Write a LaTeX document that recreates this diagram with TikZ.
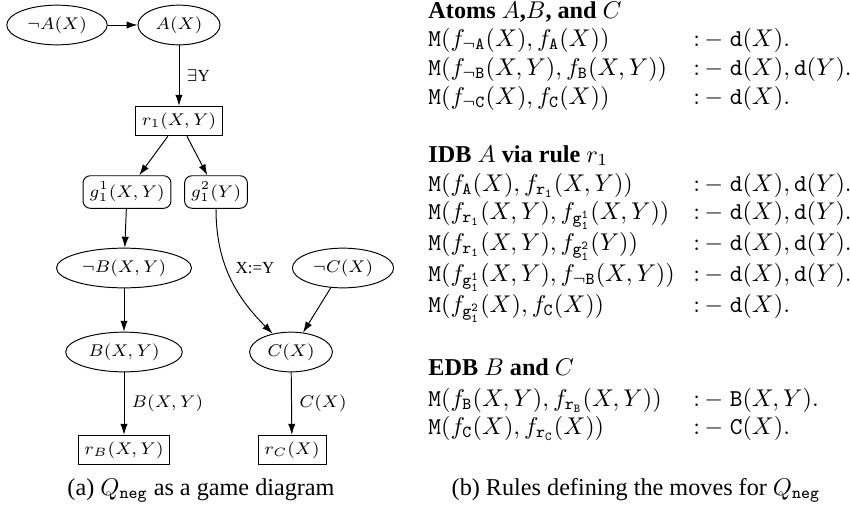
\documentclass[tikz,border=0pt]{standalone}
\usepackage[no-math]{fontspec}
\setmainfont{Liberation Serif}
\usetikzlibrary{shapes.geometric,arrows.meta}
\newlength\pxl
\setlength\pxl{0.4132pt}
\newcommand\graphfont{\fontsize{7}{8.4}\selectfont}
\newcommand\rowfont{\fontsize{10}{12}\selectfont}
\newcommand\capfont{\fontsize{10}{12}\selectfont}
\newcommand\rulesep{{:}\,{-}\;}
\tikzset{
  ell/.style={ellipse, draw, font=\graphfont, inner sep=2.3pt},
  gbox/.style={rectangle, draw, font=\graphfont, inner sep=2.6pt},
  rgbox/.style={gbox, rounded corners=3pt},
  lbl/.style={font=\graphfont, inner sep=2pt},
  arr/.style={-{Latex[length=4.5pt,width=3pt]}, line width=0.4pt},
  rowl/.style={anchor=base west, inner sep=0pt, font=\rowfont},
  head/.style={anchor=base west, inner sep=0pt, font=\capfont\bfseries},
  captext/.style={anchor=base, inner sep=0pt, font=\capfont}
}
\begin{document}
\begin{tikzpicture}[x=\pxl, y=-\pxl]
\useasboundingbox (0,0) rectangle (850,509);
% ---------- (a) game diagram ----------
\node[ell] (nA) at (57,25) {$\neg A(X)$};
\node[ell] (A) at (179,25) {$A(X)$};
\node[gbox] (r1) at (179,121) {$r_1(X,Y)$};
\node[rgbox] (g11) at (127,192) {$g_1^1(X,Y)$};
\node[rgbox] (g12) at (216,192) {$g_1^2(Y)$};
\node[ell] (nB) at (124,268) {$\neg B(X,Y)$};
\node[ell] (nC) at (343,268) {$\neg C(X)$};
\node[ell] (B) at (124,352) {$B(X,Y)$};
\node[ell] (C) at (291,352) {$C(X)$};
\node[gbox] (rB) at (124,450) {$r_B(X,Y)$};
\node[gbox] (rC) at (292,450) {$r_C(X)$};
\node[lbl] (xy) at (255,268) {X:=Y};

\draw[arr] (nA) -- (A);
\draw[arr] (A) -- node[lbl, right, inner sep=3pt] (ey) {$\exists$Y} (r1);
\draw[arr] (r1) -- (g11);
\draw[arr] (r1) -- (g12);
\draw[arr] (g11) -- (nB);
\draw[arr] (nB) -- (B);
\draw[arr] (B) -- node[lbl, right, inner sep=3pt] (lb) {$B(X,Y)$} (rB);
\draw[arr] (g12) to[out=-90, in=135] (C);
\draw[arr] (nC) -- (C);
\draw[arr] (C) -- node[lbl, right, inner sep=3pt] (lc) {$C(X)$} (rC);

\node[captext] (capa) at (201,495) {(a) $Q_{\mathtt{neg}}$ as a game diagram};

% ---------- (b) rules ----------
\node[head] (hA) at (428,18) {Atoms $A$,$B$, and $C$};
\node[rowl] (a1l) at (428,46) {$\mathtt{M}(f_{\neg\mathtt{A}}(X), f_{\mathtt{A}}(X))$};
\node[rowl] (a1r) at (693,46) {$\rulesep\mathtt{d}(X).$};
\node[rowl] (a2l) at (428,75) {$\mathtt{M}(f_{\neg\mathtt{B}}(X,Y), f_{\mathtt{B}}(X,Y))$};
\node[rowl] (a2r) at (693,75) {$\rulesep\mathtt{d}(X),\mathtt{d}(Y).$};
\node[rowl] (a3l) at (428,104) {$\mathtt{M}(f_{\neg\mathtt{C}}(X), f_{\mathtt{C}}(X))$};
\node[rowl] (a3r) at (693,104) {$\rulesep\mathtt{d}(X).$};

\node[head] (hI) at (428,162) {IDB $A$ via rule $r_1$};
\node[rowl] (i1l) at (428,191) {$\mathtt{M}(f_{\mathtt{A}}(X), f_{\mathtt{r_1}}(X,Y))$};
\node[rowl] (i1r) at (693,191) {$\rulesep\mathtt{d}(X),\mathtt{d}(Y).$};
\node[rowl] (i2l) at (428,219) {$\mathtt{M}(f_{\mathtt{r_1}}(X,Y), f_{\mathtt{g_1^1}}(X,Y))$};
\node[rowl] (i2r) at (693,219) {$\rulesep\mathtt{d}(X),\mathtt{d}(Y).$};
\node[rowl] (i3l) at (428,250) {$\mathtt{M}(f_{\mathtt{r_1}}(X,Y), f_{\mathtt{g_1^2}}(Y))$};
\node[rowl] (i3r) at (693,250) {$\rulesep\mathtt{d}(X),\mathtt{d}(Y).$};
\node[rowl] (i4l) at (428,281) {$\mathtt{M}(f_{\mathtt{g_1^1}}(X,Y), f_{\neg\mathtt{B}}(X,Y))$};
\node[rowl] (i4r) at (693,281) {$\rulesep\mathtt{d}(X),\mathtt{d}(Y).$};
\node[rowl] (i5l) at (428,312) {$\mathtt{M}(f_{\mathtt{g_1^2}}(X), f_{\mathtt{C}}(X))$};
\node[rowl] (i5r) at (693,312) {$\rulesep\mathtt{d}(X).$};

\node[head] (hE) at (428,375) {EDB $B$ and $C$};
\node[rowl] (e1l) at (428,406) {$\mathtt{M}(f_{\mathtt{B}}(X,Y), f_{\mathtt{r_B}}(X,Y))$};
\node[rowl] (e1r) at (693,406) {$\rulesep\mathtt{B}(X,Y).$};
\node[rowl] (e2l) at (428,434) {$\mathtt{M}(f_{\mathtt{C}}(X), f_{\mathtt{r_C}}(X))$};
\node[rowl] (e2r) at (693,434) {$\rulesep\mathtt{C}(X).$};

\node[captext] (capb) at (636,495) {(b) Rules defining the moves for $Q_{\mathtt{neg}}$};
\end{tikzpicture}
\end{document}
